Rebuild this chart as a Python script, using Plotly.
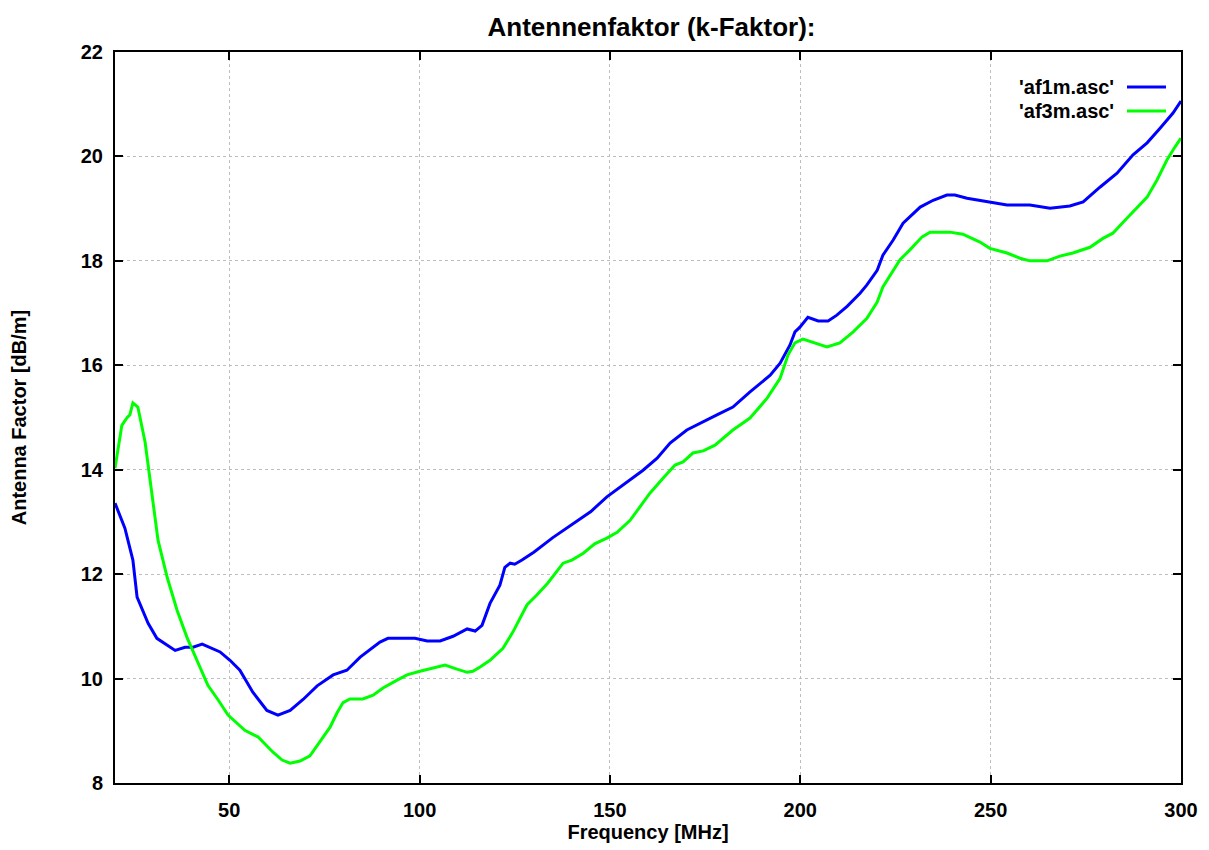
import plotly.graph_objects as go

# af1m.asc (blue)
f1 = [20, 22.6, 24.7, 25.8, 28.7, 31, 35.8, 38.4, 40.5, 42.9, 47.6, 50.2, 52.8, 56.2, 59.9, 62.8, 66,
      69.4, 73.1, 77.3, 80.9, 84.4, 89.6, 91.7, 98.8, 102, 105.4, 108.8, 112.5, 114.6, 116.4, 118.5,
      121.1, 122.4, 123.8, 125, 126.9, 130, 135, 140, 145, 149.2, 153.4, 158.7, 162.4, 165.8, 170.2,
      173.1, 175.5, 178.1, 182.3, 186.8, 192.1, 194.7, 197.3, 198.6, 199.9, 202, 204.7, 207.3, 209.6,
      212.3, 215.7, 217.5, 220.2, 221.7, 224.4, 227, 231.5, 234.9, 238.5, 240.6, 243.8, 247.2, 249.8,
      254.3, 260.3, 265.6, 270.8, 274.3, 278.7, 283.2, 287.4, 291.1, 294.5, 297.9, 300]
a1 = [13.36, 12.88, 12.27, 11.56, 11.06, 10.77, 10.54, 10.6, 10.6, 10.66, 10.51, 10.35, 10.16, 9.74,
      9.39, 9.30, 9.39, 9.6, 9.86, 10.07, 10.16, 10.41, 10.70, 10.77, 10.77, 10.72, 10.72, 10.81,
      10.95, 10.91, 11.02, 11.44, 11.79, 12.13, 12.21, 12.19, 12.27, 12.42, 12.7, 12.95, 13.2, 13.48,
      13.70, 13.99, 14.22, 14.51, 14.76, 14.87, 14.95, 15.05, 15.2, 15.49, 15.81, 16.04, 16.39, 16.64,
      16.73, 16.92, 16.85, 16.85, 16.96, 17.13, 17.38, 17.54, 17.82, 18.11, 18.4, 18.72, 19.03, 19.16,
      19.26, 19.26, 19.2, 19.16, 19.13, 19.07, 19.07, 19.01, 19.05, 19.13, 19.41, 19.68, 20.03, 20.26,
      20.54, 20.83, 21.06]

# af3m.asc (green)
f3 = [20, 21.8, 23.2, 23.9, 24.7, 26, 27.9, 29.2, 31.3, 33.7, 36.3, 38.9, 41.5, 44.4, 47.1, 49.7,
      54.1, 57.6, 61.5, 63.9, 66, 68.6, 71.2, 73.8, 76.5, 78.3, 79.9, 81.7, 85.1, 87.8, 90.4, 94.1,
      96.7, 100.1, 103.5, 106.7, 109.8, 112.5, 114, 115.9, 118.5, 121.9, 124.5, 128.2, 130.8, 133.7,
      137.7, 140, 143, 146, 149.2, 151.9, 155.3, 160.5, 164, 167.1, 169.2, 171.8, 174.5, 177.6, 182.3,
      186.8, 191.3, 194.7, 196.8, 198.6, 200.7, 203.9, 207, 210.4, 213.9, 217.5, 220.2, 221.7, 224.1,
      226.2, 228.8, 232, 234.1, 239.3, 242.7, 247.2, 249.8, 254.3, 257.7, 260.3, 264.8, 268.2, 271.6,
      276.1, 279.5, 282.1, 284.8, 288.5, 291.1, 293.7, 296.3, 298.4, 300]
a3 = [14.03, 14.85, 15.0, 15.05, 15.28, 15.2, 14.53, 13.8, 12.65, 11.94, 11.31, 10.79, 10.35, 9.87,
      9.59, 9.30, 9.01, 8.88, 8.59, 8.44, 8.38, 8.42, 8.52, 8.8, 9.07, 9.34, 9.54, 9.61, 9.61, 9.68,
      9.82, 9.97, 10.07, 10.14, 10.2, 10.26, 10.18, 10.12, 10.14, 10.22, 10.35, 10.58, 10.89, 11.41,
      11.6, 11.83, 12.21, 12.27, 12.4, 12.58, 12.69, 12.8, 13.03, 13.55, 13.84, 14.09, 14.15, 14.32,
      14.36, 14.47, 14.76, 14.99, 15.37, 15.75, 16.2, 16.43, 16.5, 16.43, 16.35, 16.43, 16.64, 16.9,
      17.21, 17.5, 17.79, 18.02, 18.21, 18.46, 18.55, 18.55, 18.51, 18.36, 18.24, 18.15, 18.05, 18.0,
      18.0, 18.09, 18.15, 18.26, 18.43, 18.53, 18.74, 19.03, 19.22, 19.55, 19.93, 20.18, 20.35]

names = ["'af1m.asc'", "'af3m.asc'"]
colors = ["#0000ff", "#00ff00"]
x_ticks = [50, 100, 150, 200, 250, 300]
y_ticks = [8, 10, 12, 14, 16, 18, 20, 22]

FONT = "Liberation Sans, Arial, sans-serif"

# page body has an 8px margin, so the figure starts at (8, 8)
OFF = 8
FW, FH = 1201, 842
L, R, T, B = 115, 1181, 52, 783   # plot area in page pixels
W, H = R - L, B - T

fig = go.Figure()
for fx, ay, nm, c in [(f1, a1, names[0], colors[0]), (f3, a3, names[1], colors[1])]:
    fig.add_trace(go.Scatter(x=fx, y=ay, mode="lines", name=nm,
                             line=dict(color=c, width=3), showlegend=False))

# gnuplot-style legend: text right-aligned, line sample to the right
for i, (nm, c) in enumerate(zip(names, colors)):
    py = 87 + i * 24
    yp = (B - py) / H
    fig.add_annotation(x=(1116 - L) / W, y=yp, xref="paper", yref="paper", text=nm,
                       showarrow=False, xanchor="right", yanchor="middle",
                       font=dict(family=FONT, size=20, color="black", weight="bold"))
    fig.add_shape(type="line", xref="paper", yref="paper", x0=(1127 - L) / W, x1=(1166 - L) / W,
                  y0=yp, y1=yp, line=dict(color=c, width=3))

axis_common = dict(showgrid=True, gridcolor="#bdbdbd", griddash="dot", gridwidth=1,
                   showline=True, linecolor="black", linewidth=2, mirror="ticks",
                   ticks="inside", ticklen=8, tickwidth=1.5, tickcolor="black",
                   zeroline=False,
                   tickfont=dict(family=FONT, size=20, color="black", weight="bold"))

fig.update_layout(
    width=FW, height=FH,
    margin=dict(l=L - OFF, r=FW - (R - OFF), t=T - OFF, b=FH - (B - OFF), autoexpand=False),
    plot_bgcolor="white", paper_bgcolor="white",
    title=dict(text="Antennenfaktor (k-Faktor):", x=(651.5 - OFF) / FW, xanchor="center",
               y=1 - (27 - OFF) / FH, yanchor="middle",
               font=dict(family=FONT, size=26, color="black", weight="bold")),
    xaxis=dict(range=[20, 300], tickvals=x_ticks, ticklabelstandoff=8,
               title=dict(text="Frequency [MHz]", standoff=5,
                          font=dict(family=FONT, size=20, color="black", weight="bold")),
               **axis_common),
    yaxis=dict(range=[8, 22], tickvals=y_ticks, ticklabelstandoff=6,
               title=dict(text="Antenna Factor [dB/m]", standoff=50,
                          font=dict(family=FONT, size=20, color="black", weight="bold")),
               **axis_common),
)

fig.write_html("out.html")
